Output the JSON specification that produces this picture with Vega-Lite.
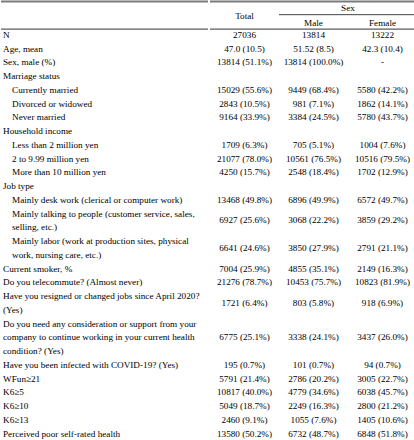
{
  "$schema": "https://vega.github.io/schema/vega-lite/v6.json",
  "padding": 0,
  "spacing": 0,
  "background": "white",
  "config": {
    "view": {"stroke": null},
    "text": {"font": "Liberation Serif", "fontSize": 9.2, "color": "#000000", "fontWeight": "normal"}
  },
  "data": {
    "values": [
      {"line": "N", "depth": 0, "lines": 1, "Total": "27036", "Male": "13814", "Female": "13222"},
      {"line": "Age, mean", "depth": 0, "lines": 1, "Total": "47.0 (10.5)", "Male": "51.52 (8.5)", "Female": "42.3 (10.4)"},
      {"line": "Sex, male (%)", "depth": 0, "lines": 1, "Total": "13814 (51.1%)", "Male": "13814 (100.0%)", "Female": "-"},
      {"line": "Marriage status", "depth": 0},
      {"line": "Currently married", "depth": 1, "lines": 1, "Total": "15029 (55.6%)", "Male": "9449 (68.4%)", "Female": "5580 (42.2%)"},
      {"line": "Divorced or widowed", "depth": 1, "lines": 1, "Total": "2843 (10.5%)", "Male": "981 (7.1%)", "Female": "1862 (14.1%)"},
      {"line": "Never married", "depth": 1, "lines": 1, "Total": "9164 (33.9%)", "Male": "3384 (24.5%)", "Female": "5780 (43.7%)"},
      {"line": "Household income", "depth": 0},
      {"line": "Less than 2 million yen", "depth": 1, "lines": 1, "Total": "1709 (6.3%)", "Male": "705 (5.1%)", "Female": "1004 (7.6%)"},
      {"line": "2 to 9.99 million yen", "depth": 1, "lines": 1, "Total": "21077 (78.0%)", "Male": "10561 (76.5%)", "Female": "10516 (79.5%)"},
      {"line": "More than 10 million yen", "depth": 1, "lines": 1, "Total": "4250 (15.7%)", "Male": "2548 (18.4%)", "Female": "1702 (12.9%)"},
      {"line": "Job type", "depth": 0},
      {"line": "Mainly desk work (clerical or computer work)", "depth": 1, "lines": 1, "Total": "13468 (49.8%)", "Male": "6896 (49.9%)", "Female": "6572 (49.7%)"},
      {"line": "Mainly talking to people (customer service, sales,", "depth": 1, "lines": 2, "Total": "6927 (25.6%)", "Male": "3068 (22.2%)", "Female": "3859 (29.2%)"},
      {"line": "selling, etc.)", "depth": 1},
      {"line": "Mainly labor (work at production sites, physical", "depth": 1, "lines": 2, "Total": "6641 (24.6%)", "Male": "3850 (27.9%)", "Female": "2791 (21.1%)"},
      {"line": "work, nursing care, etc.)", "depth": 1},
      {"line": "Current smoker, %", "depth": 0, "lines": 1, "Total": "7004 (25.9%)", "Male": "4855 (35.1%)", "Female": "2149 (16.3%)"},
      {"line": "Do you telecommute? (Almost never)", "depth": 0, "lines": 1, "Total": "21276 (78.7%)", "Male": "10453 (75.7%)", "Female": "10823 (81.9%)"},
      {"line": "Have you resigned or changed jobs since April 2020?", "depth": 0, "lines": 2, "Total": "1721 (6.4%)", "Male": "803 (5.8%)", "Female": "918 (6.9%)"},
      {"line": "(Yes)", "depth": 0},
      {"line": "Do you need any consideration or support from your", "depth": 0, "lines": 3, "Total": "6775 (25.1%)", "Male": "3338 (24.1%)", "Female": "3437 (26.0%)"},
      {"line": "company to continue working in your current health", "depth": 0},
      {"line": "condition? (Yes)", "depth": 0},
      {"line": "Have you been infected with COVID-19? (Yes)", "depth": 0, "lines": 1, "Total": "195 (0.7%)", "Male": "101 (0.7%)", "Female": "94 (0.7%)"},
      {"line": "WFun≥21", "depth": 0, "lines": 1, "Total": "5791 (21.4%)", "Male": "2786 (20.2%)", "Female": "3005 (22.7%)"},
      {"line": "K6≥5", "depth": 0, "lines": 1, "Total": "10817 (40.0%)", "Male": "4779 (34.6%)", "Female": "6038 (45.7%)"},
      {"line": "K6≥10", "depth": 0, "lines": 1, "Total": "5049 (18.7%)", "Male": "2249 (16.3%)", "Female": "2800 (21.2%)"},
      {"line": "K6≥13", "depth": 0, "lines": 1, "Total": "2460 (9.1%)", "Male": "1055 (7.6%)", "Female": "1405 (10.6%)"},
      {"line": "Perceived poor self-rated health", "depth": 0, "lines": 1, "Total": "13580 (50.2%)", "Male": "6732 (48.7%)", "Female": "6848 (51.8%)"}
    ]
  },
  "resolve": {"scale": {"y": "shared"}},
  "hconcat": [
    {
      "width": 207,
      "height": 440,
      "layer": [
        {
          "mark": {"type": "text", "align": "left", "baseline": "middle", "dx": 2},
          "encoding": {
            "x": {"field": "depth", "type": "quantitative", "scale": {"domain": [0, 23], "nice": false, "zero": true}, "axis": null},
            "y": {"field": "line", "type": "ordinal", "sort": null, "scale": {"paddingInner": 0, "paddingOuter": 1.1, "align": 0.909}, "axis": null},
            "text": {"field": "line"}
          }
        },
        {
          "data": {"values": [{}]},
          "mark": {"type": "rule", "color": "#7a7a7a", "strokeWidth": 2},
          "encoding": {"y": {"datum": "N", "type": "ordinal", "bandPosition": -1.928}}
        },
        {
          "data": {"values": [{}]},
          "mark": {"type": "rule", "color": "#333333", "strokeWidth": 1},
          "encoding": {"y": {"datum": "N", "type": "ordinal", "bandPosition": 0.08}}
        },
        {
          "data": {"values": [{}]},
          "mark": {"type": "rule", "color": "#7a7a7a", "strokeWidth": 2},
          "encoding": {"y": {"datum": "Perceived poor self-rated health", "type": "ordinal", "bandPosition": 1.03}}
        }
      ]
    },
    {
      "width": 207,
      "height": 440,
      "layer": [
        {
          "transform": [
            {"fold": ["Total", "Male", "Female"], "as": ["col", "val"]},
            {"filter": "datum.lines == 1 && isValid(datum.val)"}
          ],
          "mark": {"type": "text", "baseline": "middle"},
          "encoding": {
            "x": {"field": "col", "type": "nominal", "sort": ["Total", "Male", "Female"], "scale": {"type": "band", "domain": ["Total", "Male", "Female"], "paddingInner": 0, "paddingOuter": 0}, "axis": null},
            "y": {"field": "line", "type": "ordinal", "sort": null, "axis": null},
            "text": {"field": "val"}
          }
        },
        {
          "transform": [
            {"fold": ["Total", "Male", "Female"], "as": ["col", "val"]},
            {"filter": "datum.lines == 2 && isValid(datum.val)"}
          ],
          "mark": {"type": "text", "baseline": "middle"},
          "encoding": {
            "x": {"field": "col", "type": "nominal", "axis": null},
            "y": {"field": "line", "type": "ordinal", "sort": null, "bandPosition": 1, "axis": null},
            "text": {"field": "val"}
          }
        },
        {
          "transform": [
            {"fold": ["Total", "Male", "Female"], "as": ["col", "val"]},
            {"filter": "datum.lines == 3 && isValid(datum.val)"}
          ],
          "mark": {"type": "text", "baseline": "middle"},
          "encoding": {
            "x": {"field": "col", "type": "nominal", "axis": null},
            "y": {"field": "line", "type": "ordinal", "sort": null, "bandPosition": 1.5, "axis": null},
            "text": {"field": "val"}
          }
        },
        {
          "data": {"values": [{}]},
          "mark": {"type": "text", "baseline": "middle"},
          "encoding": {
            "x": {"datum": "Total", "type": "nominal"},
            "y": {"datum": "N", "type": "ordinal", "bandPosition": -0.88},
            "text": {"datum": "Total"}
          }
        },
        {
          "data": {"values": [{}]},
          "mark": {"type": "text", "baseline": "middle"},
          "encoding": {
            "x": {"datum": "Female", "type": "nominal", "bandPosition": 0},
            "y": {"datum": "N", "type": "ordinal", "bandPosition": -1.47},
            "text": {"datum": "Sex"}
          }
        },
        {
          "data": {"values": [{}]},
          "mark": {"type": "text", "baseline": "middle"},
          "encoding": {
            "x": {"datum": "Male", "type": "nominal"},
            "y": {"datum": "N", "type": "ordinal", "bandPosition": -0.36},
            "text": {"datum": "Male"}
          }
        },
        {
          "data": {"values": [{}]},
          "mark": {"type": "text", "baseline": "middle"},
          "encoding": {
            "x": {"datum": "Female", "type": "nominal"},
            "y": {"datum": "N", "type": "ordinal", "bandPosition": -0.36},
            "text": {"datum": "Female"}
          }
        },
        {
          "data": {"values": [{}]},
          "mark": {"type": "rule", "color": "#7a7a7a", "strokeWidth": 2},
          "encoding": {"y": {"datum": "N", "type": "ordinal", "bandPosition": -1.928}}
        },
        {
          "data": {"values": [{}]},
          "mark": {"type": "rule", "color": "#444444", "strokeWidth": 1},
          "encoding": {
            "x": {"datum": "Male", "type": "nominal", "bandPosition": 0},
            "x2": {"value": "width"},
            "y": {"datum": "N", "type": "ordinal", "bandPosition": -0.97}
          }
        },
        {
          "data": {"values": [{}]},
          "mark": {"type": "rule", "color": "#333333", "strokeWidth": 1},
          "encoding": {"y": {"datum": "N", "type": "ordinal", "bandPosition": 0.08}}
        },
        {
          "data": {"values": [{}]},
          "mark": {"type": "rule", "color": "#7a7a7a", "strokeWidth": 2},
          "encoding": {"y": {"datum": "Perceived poor self-rated health", "type": "ordinal", "bandPosition": 1.03}}
        }
      ]
    }
  ]
}
